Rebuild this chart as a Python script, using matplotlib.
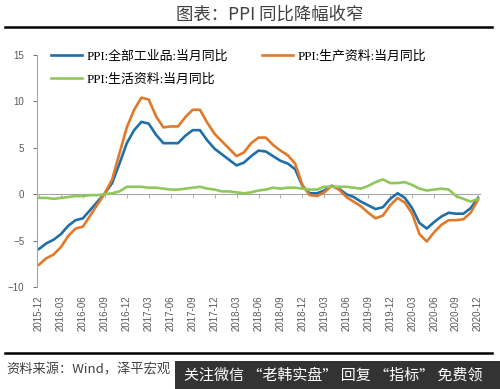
import numpy as np
import matplotlib
matplotlib.use("Agg")
from matplotlib import pyplot as plt
from matplotlib.patches import Rectangle
from matplotlib.lines import Line2D

plt.rcParams['font.family'] = ['Liberation Sans', 'Noto Sans CJK SC', 'DejaVu Sans']

# monthly, 2015-12 .. 2020-12
ppi_all = [-5.9,
           -5.3, -4.9, -4.3, -3.4, -2.8, -2.6, -1.7, -0.8, 0.1, 1.2, 3.3, 5.5,
           6.9, 7.8, 7.6, 6.4, 5.5, 5.5, 5.5, 6.3, 6.9, 6.9, 5.8, 4.9,
           4.3, 3.7, 3.1, 3.4, 4.1, 4.7, 4.6, 4.1, 3.6, 3.3, 2.7, 0.9,
           0.1, 0.1, 0.4, 0.9, 0.6, 0.0, -0.3, -0.8, -1.2, -1.6, -1.4, -0.5,
           0.1, -0.4, -1.5, -3.1, -3.7, -3.0, -2.4, -2.0, -2.1, -2.1, -1.5, -0.4]
ppi_prod = [-7.6,
            -6.9, -6.5, -5.7, -4.5, -3.7, -3.5, -2.3, -1.1, 0.1, 1.6, 4.4, 7.2,
            9.1, 10.4, 10.2, 8.4, 7.2, 7.3, 7.3, 8.3, 9.1, 9.1, 7.7, 6.5,
            5.7, 4.9, 4.1, 4.5, 5.5, 6.1, 6.1, 5.3, 4.7, 4.2, 3.3, 1.0,
            -0.1, -0.2, 0.2, 0.9, 0.5, -0.3, -0.8, -1.3, -2.0, -2.6, -2.3, -1.2,
            -0.4, -0.9, -2.1, -4.3, -5.1, -4.1, -3.3, -2.8, -2.8, -2.7, -2.0, -0.6]
ppi_life = [-0.4,
            -0.4, -0.5, -0.4, -0.3, -0.2, -0.2, -0.1, -0.1, 0.0, 0.1, 0.3, 0.8,
            0.8, 0.8, 0.7, 0.7, 0.6, 0.5, 0.5, 0.6, 0.7, 0.8, 0.6, 0.5,
            0.3, 0.3, 0.2, 0.1, 0.2, 0.4, 0.5, 0.7, 0.6, 0.7, 0.7, 0.6,
            0.5, 0.5, 0.8, 0.8, 0.8, 0.8, 0.7, 0.6, 0.9, 1.3, 1.6, 1.2,
            1.2, 1.3, 1.0, 0.6, 0.4, 0.5, 0.6, 0.5, -0.2, -0.5, -0.8, -0.5]

months = []
for y in range(2015, 2021):
    for m in range(1, 13):
        if (y, m) >= (2015, 12):
            months.append("%d-%02d" % (y, m))

labels = ["PPI:全部工业品:当月同比", "PPI:生产资料:当月同比", "PPI:生活资料:当月同比"]
colors = ["#1f6fab", "#e07a2a", "#8fc75a"]
gray = "#595959"

x = np.arange(len(months))

fig = plt.figure(figsize=(5.0, 3.89), dpi=100)
ax = fig.add_axes([0.0736, 0.2622, 0.9604 - 0.0736, 0.8586 - 0.2622])

for vals, lab, col in zip([ppi_all, ppi_prod, ppi_life], labels, colors):
    ax.plot(x, vals, color=col, lw=1.9, label=lab, solid_joinstyle='round')

ax.set_xlim(-0.3, len(months) - 0.7)
ax.set_ylim(-10, 15)
ax.set_yticks([-10, -5, 0, 5, 10, 15])
ax.tick_params(axis='y', labelsize=7, colors=gray, length=3, width=0.6, pad=6)
ax.set_xticks(x[::3])
ax.set_xticklabels(months[::3], rotation=90, fontsize=7, color=gray)
ax.tick_params(axis='x', length=0, pad=6)

for s in ['top', 'right', 'bottom']:
    ax.spines[s].set_visible(False)
ax.spines['left'].set_color('#a6a6a6')
ax.spines['left'].set_linewidth(0.8)

# zero line with tick marks
zero = ax.secondary_xaxis(0.4)
zero.set_xticks(x[::3])
zero.set_xticklabels([])
zero.tick_params(length=3, width=0.6, color='#a6a6a6')
zero.spines['bottom'].set_color('#a6a6a6')
zero.spines['bottom'].set_linewidth(0.8)

h, l = ax.get_legend_handles_labels()
leg = ax.legend([h[0], h[2], h[1]], [l[0], l[2], l[1]], ncol=2, loc='upper left',
                bbox_to_anchor=(0.005, 1.07), frameon=False,
                handlelength=2.4, handletextpad=0.4, columnspacing=2.6, labelspacing=0.85,
                prop={'family': ['Liberation Serif', 'Noto Sans CJK SC'], 'size': 9.3})

# header / footer
fig.text(0.54, 0.963, "图表：PPI 同比降幅收窄", ha='center', va='center', fontsize=12.5,
         color='#404040', family=['Noto Sans CJK SC'])
fig.add_artist(Line2D([0.01, 0.984], [0.93, 0.93], color='black', lw=1.8))
fig.add_artist(Line2D([0.01, 0.984], [0.093, 0.093], color='black', lw=1.8))
fig.text(0.012, 0.048, "资料来源：Wind，泽平宏观", ha='left', va='center', fontsize=9.5,
         color='#404040', style='italic', family=['Noto Sans CJK SC'])
fig.add_artist(Rectangle((0.35, 0.0), 0.65, 0.072, transform=fig.transFigure,
                         facecolor='#333333', edgecolor='none'))
fig.text(0.368, 0.036, "关注微信 “老韩实盘” 回复 “指标” 免费领", ha='left', va='center',
         fontsize=10.8, color='white', family=['Noto Sans CJK SC'])

fig.savefig("out.png", dpi=100)
